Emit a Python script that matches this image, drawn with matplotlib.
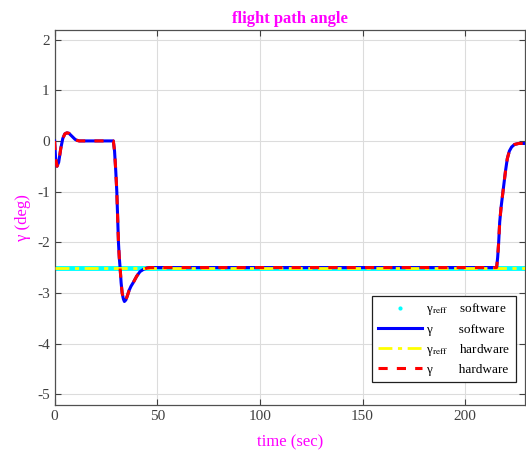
import numpy as np
import matplotlib
matplotlib.use("Agg")
from matplotlib import pyplot as plt
from matplotlib.lines import Line2D

# flight path angle response
t = [0, 0.5, 1.2, 2, 3, 4, 5, 6, 7, 8, 9, 10, 11, 12, 20, 28.6,
     29.2, 29.8, 30.3, 30.7, 31.1, 31.5, 31.9, 32.4, 32.9, 33.5, 34.0,
     34.7, 35.5, 36.3, 37.2, 38.4, 40.0, 41.6, 43.5, 45.0, 46.5, 100,
     215.3, 215.8, 216.3, 216.8, 217.5, 218.7, 219.6, 220.5, 221.5,
     222.6, 224.0, 226.0, 229.3]
gamma = [0, -0.35, -0.5, -0.42, -0.15, 0.05, 0.14, 0.16, 0.15, 0.11, 0.07, 0.03, 0.01, 0.0, 0.0, 0.0,
         -0.2, -0.6, -1.0, -1.5, -2.0, -2.3, -2.5, -2.8, -3.0, -3.12, -3.17,
         -3.14, -3.05, -2.95, -2.87, -2.79, -2.67, -2.58, -2.53, -2.51, -2.5, -2.5,
         -2.5, -2.3, -2.0, -1.6, -1.3, -0.9, -0.6, -0.35, -0.2,
         -0.12, -0.07, -0.05, -0.05]
t_ref = [0, 229.3]
gamma_ref = [-2.5, -2.5]

labels = ["γ$_{\\rm reff}$    software",
          "γ        software",
          "γ$_{\\rm reff}$    hardware",
          "γ        hardware"]

plt.rcParams["font.family"] = ["Liberation Serif", "DejaVu Serif"]
plt.rcParams["mathtext.fontset"] = "stix"
plt.rcParams["axes.unicode_minus"] = False

fig = plt.figure(figsize=(5.26, 4.58), dpi=100)
ax = fig.add_axes([0.1038, 0.115, 0.895, 0.8195])

ax.plot(t_ref, gamma_ref, color="#00ffff", linewidth=3.5, solid_capstyle="butt", zorder=2)
ax.plot(t, gamma, color="#0000ff", linewidth=2.2, zorder=3)
ax.plot(t_ref, gamma_ref, color="#ffff00", linewidth=2, linestyle="-.", dashes=(5, 2, 1.5, 2), zorder=4)
ax.plot(t, gamma, color="#ff0000", linewidth=2.2, linestyle="--", dashes=(3, 3), zorder=5)

ax.set_xlim(0, 229.3)
ax.set_ylim(-5.22, 2.19)
ax.set_xticks([0, 50, 100, 150, 200])
ax.set_yticks([-5, -4, -3, -2, -1, 0, 1, 2])
ax.grid(True, color="#dcdcdc", linewidth=0.8)
ax.set_axisbelow(True)
ax.tick_params(direction="in", length=4, top=True, right=True, labelsize=11,
               colors="#404040", labelcolor="#404040")
for s in ax.spines.values():
    s.set_color("#505050")
    s.set_linewidth(0.9)

ax.set_title("flight path angle", color="#ff00ff", fontweight="bold", fontsize=12, pad=5)
ax.set_xlabel("time (sec)", color="#ff00ff", fontsize=12, labelpad=8)
ax.set_ylabel("γ (deg)", color="#ff00ff", fontsize=12, labelpad=4)

handles = [Line2D([], [], color="#00ffff", marker=".", markersize=4, linestyle="none"),
           Line2D([], [], color="#0000ff", linewidth=2.2),
           Line2D([], [], color="#ffff00", linewidth=2, linestyle="-.", dashes=(5, 2, 1.5, 2)),
           Line2D([], [], color="#ff0000", linewidth=2.2, linestyle="--", dashes=(3, 3))]
leg = ax.legend(handles, labels, loc="lower right", bbox_to_anchor=(0.98, 0.063),
                borderaxespad=0, fontsize=9.5, handlelength=3.3, handletextpad=0.3,
                labelspacing=0.45, fancybox=False, framealpha=1, edgecolor="#202020",
                borderpad=0.45)
leg.get_frame().set_linewidth(0.9)

fig.savefig("out.png", dpi=100)
